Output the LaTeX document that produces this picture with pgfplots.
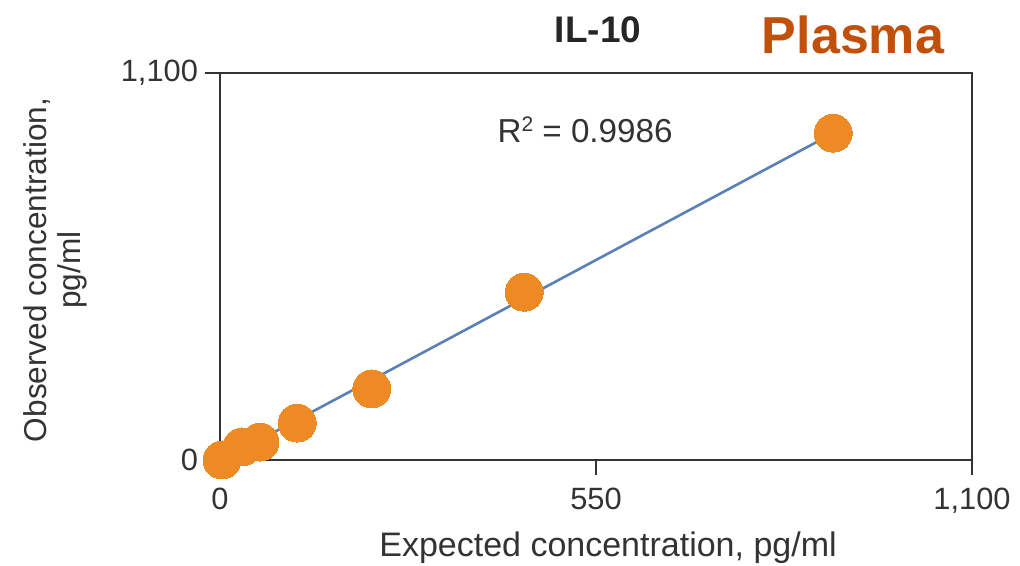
\documentclass[border=0pt]{standalone}
\usepackage{pgfplots}
\pgfplotsset{compat=1.18}
\usepackage{fontspec}
\setmainfont{Liberation Sans}
\definecolor{axisgray}{HTML}{333333}
\definecolor{lineblue}{HTML}{5A80B5}
\definecolor{dotorange}{HTML}{EE8A24}
\definecolor{plasma}{HTML}{C0500A}
\begin{document}
\begin{tikzpicture}
\useasboundingbox (-110pt,-53pt) rectangle (400pt,230pt);
\begin{axis}[
  at={(0pt,0pt)}, anchor=south west,
  scale only axis, width=376pt, height=193.5pt,
  xmin=0, xmax=1100, ymin=0, ymax=1100,
  xtick={0,550,1100}, ytick={0,1100},
  xticklabels={0,550,{1,100}}, yticklabels={0,{1,100}},
  tick pos=left,
  tick align=outside, major tick length=7.5pt,
  tick style={axisgray, line width=1pt},
  axis line style={axisgray, line width=1pt},
  /pgf/number format/assume math mode=true,
  ticklabel style={font=\fontsize{15.4}{18}\selectfont, text=axisgray},
  xticklabel style={yshift=-3pt},
  xlabel={Expected concentration, pg/ml},
  xlabel style={at={(axis description cs:0.516,0)}, anchor=center, yshift=-44pt, font=\fontsize{17}{20}\selectfont, text=axisgray},
  ylabel={Observed concentration,\\pg/ml},
  ylabel style={at={(axis description cs:-0.219,0.491)}, anchor=center, align=center, font=\fontsize{15.8}{17}\selectfont, text=axisgray},
  clip=false,
]
\addplot[lineblue, line width=1.3pt] coordinates {(3,0) (897,929)};
\addplot[only marks, mark=*, mark size=9.5pt, mark options={fill=dotorange, draw=dotorange, line width=0pt}] coordinates {
  (3,0) (32,37) (58.5,51) (113,105) (222,202) (445,477) (897,929)
};
\node[font=\fontsize{16.6}{18}\selectfont, text=axisgray] at (axis cs:534,938) {R\raisebox{0.32em}{\fontsize{10.5}{10}\selectfont 2} = 0.9986};
\end{axis}
\node[font=\bfseries\fontsize{18.5}{20}\selectfont, text=black!85] at (189pt,215pt) {IL-10};
\node[font=\bfseries\fontsize{26}{30}\selectfont, text=plasma] at (316.5pt,212.5pt) {Plasma};
\end{tikzpicture}
\end{document}
